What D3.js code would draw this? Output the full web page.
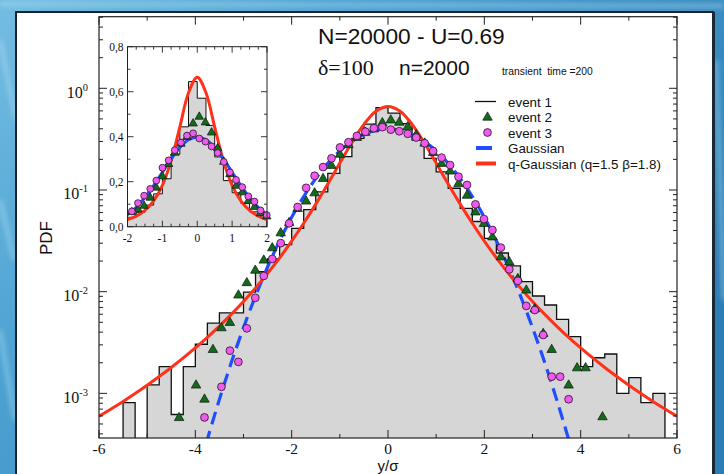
<!DOCTYPE html>
<html>
<head>
<meta charset="utf-8">
<script src="https://cdn.jsdelivr.net/npm/d3@7"></script>
<style>
  html, body { margin: 0; padding: 0; background: #3a8ec3; }
  svg { display: block; }
  .serif { font-family: "Liberation Serif", "DejaVu Serif", serif; }
  .sans  { font-family: "Liberation Sans", Arial, Helvetica, sans-serif; }
</style>
</head>
<body>
<svg id="chart" width="724" height="474"></svg>
<script>
// ══════════════════════════════════════════════════════════
// DATA
// ══════════════════════════════════════════════════════════
const xTicksMain = [-6, -4, -2, 0, 2, 4, 6];
const yDecades   = [1e-3, 1e-2, 1e-1, 1];
const yDecadeExp = ['-3', '-2', '-1', '0'];
const insetXTicks  = [-2, -1, 0, 1, 2];
const insetYTicks  = [0, 0.2, 0.4, 0.6, 0.8];
const insetYLabels = ['0,0', '0,2', '0,4', '0,6', '0,8'];

// event 1 : histogram, bins of 0.25 starting at -5.5
const binStart = -5.5, binWidth = 0.25;
const histVals = [
  8.1e-4, 0, 1.21e-3, 1.83e-3, 6.2e-4, 1.83e-3, 3.04e-3, 4.9e-3, 6.2e-3, 6.2e-3,
  9.9e-3, 0.0157, 0.021, 0.029, 0.042, 0.064, 0.096, 0.146, 0.213, 0.322,
  0.444, 0.645, 0.571, 0.45, 0.31, 0.205, 0.151, 0.104, 0.066, 0.049,
  0.0335, 0.024, 0.0179, 0.01255, 9.07e-3, 7.4e-3, 5.35e-3, 3.61e-3, 1.83e-3, 2.24e-3,
  2.44e-3, 1.0e-3, 1.43e-3, 8.1e-4, 1.0e-3
];

// event 2 : triangles
const ev2X = [-4.337, -3.985, -3.81, -3.634, -3.458, -3.282, -3.106, -2.931, -2.755, -2.579,
  -2.403, -2.227, -2.052, -1.876, -1.7, -1.524, -1.348, -1.173, -0.997, -0.821,
  -0.645, -0.469, -0.294, -0.118, 0.058, 0.234, 0.41, 0.585, 0.761, 0.937,
  1.113, 1.289, 1.464, 1.64, 1.816, 1.992, 2.168, 2.343, 2.519, 2.695,
  2.871, 3.047, 3.222, 3.398, 3.75, 3.926, 4.102, 4.453];
const ev2Y = [5.8e-4, 1.21e-3, 8.8e-4, 2.71e-3, 4.43e-3, 5.0e-3, 9.3e-3, 0.0123, 0.0163, 0.0205,
  0.0271, 0.038, 0.048, 0.066, 0.078, 0.094, 0.13, 0.175, 0.225, 0.28,
  0.33, 0.37, 0.40, 0.46, 0.49, 0.465, 0.42, 0.35, 0.29, 0.235,
  0.183, 0.154, 0.116, 0.089, 0.061, 0.047, 0.0347, 0.0221, 0.0197, 0.0135,
  0.0104, 6.8e-3, 3.9e-3, 2.71e-3, 1.21e-3, 1.79e-3, 1.79e-3, 5.9e-4];

// event 3 : circles
const ev3X = [-3.81, -3.458, -3.282, -3.106, -2.931, -2.755, -2.579, -2.403, -2.227, -2.052,
  -1.876, -1.7, -1.524, -1.348, -1.173, -0.997, -0.821, -0.645, -0.469, -0.294,
  -0.118, 0.058, 0.234, 0.41, 0.585, 0.761, 0.937, 1.113, 1.289, 1.464,
  1.64, 1.816, 1.992, 2.168, 2.343, 2.519, 2.695, 2.871, 3.047, 3.222,
  3.398, 3.574, 3.75];
const ev3Y = [5.8e-4, 1.16e-3, 2.63e-3, 2.04e-3, 4.36e-3, 8.7e-3, 0.0143, 0.021, 0.030, 0.047,
  0.068, 0.105, 0.138, 0.168, 0.205, 0.262, 0.295, 0.34, 0.374, 0.405,
  0.415, 0.392, 0.378, 0.357, 0.328, 0.288, 0.2415, 0.208, 0.176, 0.135,
  0.112, 0.0723, 0.0518, 0.0404, 0.0271, 0.0166, 0.0128, 7.24e-3, 6.6e-3, 3.75e-3,
  1.46e-3, 1.46e-3, 8.75e-4];

// Gaussian (dashed blue)
const gaussX = [-4, -3.75, -3.5, -3.25, -3, -2.75, -2.5, -2.25, -2, -1.75, -1.5, -1.25, -1, -0.75, -0.5, -0.25,
  0, 0.25, 0.5, 0.75, 1, 1.25, 1.5, 1.75, 2, 2.25, 2.5, 2.75, 3, 3.25, 3.5, 3.75, 4];
const gaussY = [0.000134, 0.000353, 0.000873, 0.00203, 0.00443, 0.00909, 0.0175, 0.0317, 0.054, 0.0863,
  0.1295, 0.1826, 0.242, 0.3011, 0.3521, 0.3867, 0.3989, 0.3867, 0.3521, 0.3011, 0.242, 0.1826,
  0.1295, 0.0863, 0.054, 0.0317, 0.0175, 0.00909, 0.00443, 0.00203, 0.000873, 0.000353, 0.000134];

// q-Gaussian (red)
const qX = [-6, -5.75, -5.5, -5.25, -5, -4.75, -4.5, -4.25, -4, -3.75, -3.5, -3.25, -3, -2.75, -2.5, -2.25,
  -2, -1.75, -1.5, -1.25, -1, -0.75, -0.5, -0.25, 0, 0.25, 0.5, 0.75, 1, 1.25, 1.5, 1.75,
  2, 2.25, 2.5, 2.75, 3, 3.25, 3.5, 3.75, 4, 4.25, 4.5, 4.75, 5, 5.25, 5.5, 5.75, 6];
const qY = [0.000595, 0.000702, 0.000833, 0.000997, 0.001202, 0.001463, 0.001797, 0.00223, 0.0028, 0.00356,
  0.004592, 0.006015, 0.008018, 0.010896, 0.01513, 0.02151, 0.03138, 0.04706, 0.07256, 0.1147,
  0.1839, 0.2927, 0.4425, 0.5952, 0.664, 0.5952, 0.4425, 0.2927, 0.1839, 0.1147,
  0.07256, 0.04706, 0.03138, 0.02151, 0.01513, 0.010896, 0.008018, 0.006015, 0.004592, 0.00356,
  0.0028, 0.00223, 0.001797, 0.001463, 0.001202, 0.000997, 0.000833, 0.000702, 0.000595];

const legendItems = ['event 1', 'event 2', 'event 3', 'Gaussian', 'q-Gaussian (q=1.5 \u03B2=1.8)'];

// ══════════════════════════════════════════════════════════
// STYLE
// ══════════════════════════════════════════════════════════
const COL = {
  hist: '#d6d6d6', tri: '#13691c', circ: '#ef5ced', gauss: '#1f4dff', qg: '#ff3219'
};

const W = 724, H = 474;
const svg = d3.select('#chart');
const defs = svg.append('defs');

// background
const bg = defs.append('linearGradient').attr('id', 'bg')
  .attr('x1', 0).attr('y1', 0).attr('x2', 1).attr('y2', 0.6);
bg.append('stop').attr('offset', 0).attr('stop-color', '#74bde2');
bg.append('stop').attr('offset', 0.35).attr('stop-color', '#4da2d2');
bg.append('stop').attr('offset', 1).attr('stop-color', '#2d7db5');
defs.append('filter').attr('id', 'blur').append('feGaussianBlur').attr('stdDeviation', 2.5);

svg.append('rect').attr('width', W).attr('height', H).attr('fill', 'url(#bg)');
const streaks = [[0, 4, 724, 6], [0, 40, 16, 120], [0, 200, 14, 260], [0, 330, 15, 420], [716, 60, 724, 300]];
svg.append('g').attr('filter', 'url(#blur)').selectAll('line').data(streaks).join('line')
  .attr('x1', d => d[0]).attr('y1', d => d[1]).attr('x2', d => d[2]).attr('y2', d => d[3])
  .attr('stroke', '#bfe6f7').attr('stroke-opacity', 0.45).attr('stroke-width', 4);

// white panel
svg.append('rect').attr('x', 16).attr('y', 12).attr('width', 697).attr('height', 475)
  .attr('fill', '#fff').attr('stroke', '#17232f').attr('stroke-width', 2);
svg.append('rect').attr('x', 712).attr('y', 12).attr('width', 3).attr('height', 475).attr('fill', '#1b2835');

// ══════════════════════════════════════════════════════════
// MAIN PLOT
// ══════════════════════════════════════════════════════════
const M = { l: 99, r: 677, t: 16.7, b: 438 };
const x = d3.scaleLinear().domain([-6, 6]).range([M.l, M.r]);
const y = d3.scaleLog().domain([3.64e-4, 5.06]).range([M.b, M.t]);
const yc = v => (v > 0 ? Math.min(y(v), M.b + 2) : M.b + 2);

defs.append('clipPath').attr('id', 'clipMain').append('rect')
  .attr('x', M.l).attr('y', M.t).attr('width', M.r - M.l).attr('height', M.b - M.t);

const main = svg.append('g');
const plot = main.append('g').attr('clip-path', 'url(#clipMain)');

// histogram as step points
const hist = histVals.map((v, i) => ({ lo: binStart + i * binWidth, hi: binStart + (i + 1) * binWidth, v }));
function stepPts(bins) {
  const pts = [[bins[0].lo, 0]];
  bins.forEach(b => pts.push([b.lo, b.v]));
  const last = bins[bins.length - 1];
  pts.push([last.hi, last.v], [last.hi, 0]);
  return pts;
}
const histPts = stepPts(hist);

plot.append('path').datum(histPts)
  .attr('fill', COL.hist)
  .attr('d', d3.area().curve(d3.curveStepAfter).x(d => x(d[0])).y0(M.b + 2).y1(d => yc(d[1])));
plot.append('path').datum(histPts)
  .attr('fill', 'none').attr('stroke', '#111').attr('stroke-width', 1.3)
  .attr('d', d3.line().curve(d3.curveStepAfter).x(d => x(d[0])).y(d => yc(d[1])));

// Gaussian dashed
plot.append('path').datum(d3.zip(gaussX, gaussY))
  .attr('fill', 'none').attr('stroke', COL.gauss).attr('stroke-width', 3.2)
  .attr('stroke-dasharray', '13,7')
  .attr('d', d3.line().curve(d3.curveCatmullRom).x(d => x(d[0])).y(d => y(d[1])));

// markers
function triPath(s) {
  const h = s * 0.87;
  return `M0,${-h * 0.62}L${s / 2},${h * 0.38}L${-s / 2},${h * 0.38}Z`;
}
main.append('g').selectAll('path').data(d3.zip(ev2X, ev2Y)).join('path')
  .attr('transform', d => `translate(${x(d[0])},${y(d[1])})`)
  .attr('d', triPath(9.5))
  .attr('fill', COL.tri).attr('stroke', '#0a1a0a').attr('stroke-width', 0.7);
main.append('g').selectAll('circle').data(d3.zip(ev3X, ev3Y)).join('circle')
  .attr('cx', d => x(d[0])).attr('cy', d => y(d[1])).attr('r', 3.9)
  .attr('fill', COL.circ).attr('stroke', '#2a102a').attr('stroke-width', 0.8);

// q-Gaussian
plot.append('path').datum(d3.zip(qX, qY))
  .attr('fill', 'none').attr('stroke', COL.qg).attr('stroke-width', 3)
  .attr('d', d3.line().curve(d3.curveCatmullRom).x(d => x(d[0])).y(d => y(d[1])));

// frame
main.append('rect').attr('x', M.l).attr('y', M.t).attr('width', M.r - M.l).attr('height', M.b - M.t)
  .attr('fill', 'none').attr('stroke', '#222').attr('stroke-width', 1.2);

// ticks (inward)
const xMinor = d3.range(-5, 6, 2);
const yMinor = [];
[1e-4, 1e-3, 1e-2, 1e-1, 1].forEach(d => d3.range(2, 10).forEach(m => {
  const v = d * m; if (v > y.domain()[0] && v < y.domain()[1]) yMinor.push(v);
}));
const tk = main.append('g').attr('stroke', '#222').attr('stroke-width', 1);
function xTicks(vals, len) {
  vals.forEach(v => {
    tk.append('line').attr('x1', x(v)).attr('x2', x(v)).attr('y1', M.b).attr('y2', M.b - len);
    tk.append('line').attr('x1', x(v)).attr('x2', x(v)).attr('y1', M.t).attr('y2', M.t + len);
  });
}
function yTicks(vals, len) {
  vals.forEach(v => {
    tk.append('line').attr('y1', y(v)).attr('y2', y(v)).attr('x1', M.l).attr('x2', M.l + len);
    tk.append('line').attr('y1', y(v)).attr('y2', y(v)).attr('x1', M.r).attr('x2', M.r - len);
  });
}
xTicks(xTicksMain, 8); xTicks(xMinor, 4);
yTicks(yDecades, 8); yTicks(yMinor, 4);

// tick labels
main.append('g').selectAll('text').data(xTicksMain).join('text')
  .attr('class', 'serif').attr('x', d => x(d)).attr('y', 454)
  .attr('text-anchor', 'middle').attr('font-size', 15.5).attr('fill', '#111')
  .text(d => String(d));

const yl = main.append('g').selectAll('text').data(yDecades).join('text')
  .attr('class', 'serif').attr('x', 88).attr('y', d => y(d) + 9.5)
  .attr('text-anchor', 'end').attr('font-size', 16).attr('fill', '#111');
yl.append('tspan').text('10');
yl.append('tspan').attr('dy', -7).attr('font-size', 10.5).text((d, i) => yDecadeExp[i]);

// axis titles
main.append('text').attr('class', 'sans').attr('transform', 'translate(52,238) rotate(-90)')
  .attr('text-anchor', 'middle').attr('font-size', 17).attr('fill', '#111').text('PDF');
main.append('text').attr('class', 'sans').attr('x', 388).attr('y', 470.5)
  .attr('text-anchor', 'middle').attr('font-size', 15).attr('fill', '#111').text('y/\u03C3');

// annotations
main.append('text').attr('class', 'sans').attr('x', 318).attr('y', 43.5)
  .attr('font-size', 22.7).attr('fill', '#111').text('N=20000 - U=0.69');
main.append('text').attr('class', 'serif').attr('x', 318).attr('y', 75)
  .attr('font-size', 22).attr('fill', '#111').text('\u03B4=100');
main.append('text').attr('class', 'sans').attr('x', 399).attr('y', 75)
  .attr('font-size', 21).attr('fill', '#111').text('n=2000');
main.append('text').attr('class', 'sans').attr('x', 502).attr('y', 75)
  .attr('font-size', 10.3).attr('fill', '#111').text('transient  time =200')
  .style('white-space', 'pre');

// legend
const leg = main.append('g');
const legBase = 106.5, legStep = 15.5;
leg.selectAll('text').data(legendItems).join('text')
  .attr('class', 'sans').attr('x', 508).attr('y', (d, i) => legBase + i * legStep)
  .attr('font-size', 13.4).attr('fill', '#111').text(d => d);
const sy = i => legBase + i * legStep - 5;
leg.append('line').attr('x1', 475).attr('x2', 496).attr('y1', sy(0)).attr('y2', sy(0))
  .attr('stroke', '#111').attr('stroke-width', 1.3);
leg.append('path').attr('transform', `translate(487.5,${sy(1)})`).attr('d', triPath(9.5))
  .attr('fill', COL.tri).attr('stroke', '#0a1a0a').attr('stroke-width', 0.7);
leg.append('circle').attr('cx', 487.5).attr('cy', sy(2)).attr('r', 3.9)
  .attr('fill', COL.circ).attr('stroke', '#2a102a').attr('stroke-width', 0.8);
leg.append('line').attr('x1', 476).attr('x2', 492).attr('y1', sy(3)).attr('y2', sy(3))
  .attr('stroke', COL.gauss).attr('stroke-width', 4);
leg.append('line').attr('x1', 476).attr('x2', 496).attr('y1', sy(4)).attr('y2', sy(4))
  .attr('stroke', COL.qg).attr('stroke-width', 4);

// ══════════════════════════════════════════════════════════
// INSET (linear scale)
// ══════════════════════════════════════════════════════════
const I = { l: 127.5, r: 267, t: 46.7, b: 226.7 };
const xi = d3.scaleLinear().domain([-2, 2]).range([I.l, I.r]);
const yi = d3.scaleLinear().domain([0, 0.8]).range([I.b, I.t]);

defs.append('clipPath').attr('id', 'clipInset').append('rect')
  .attr('x', I.l).attr('y', I.t).attr('width', I.r - I.l).attr('height', I.b - I.t);

const inset = svg.append('g');
inset.append('rect').attr('x', I.l).attr('y', I.t).attr('width', I.r - I.l).attr('height', I.b - I.t)
  .attr('fill', '#fff');
const ip = inset.append('g').attr('clip-path', 'url(#clipInset)');

const insetHist = hist.filter(b => b.lo >= -2 - 1e-9 && b.hi <= 2 + 1e-9);
const insetPts = stepPts(insetHist);
ip.append('path').datum(insetPts).attr('fill', COL.hist)
  .attr('d', d3.area().curve(d3.curveStepAfter).x(d => xi(d[0])).y0(I.b).y1(d => yi(d[1])));
ip.append('path').datum(insetPts).attr('fill', 'none').attr('stroke', '#111').attr('stroke-width', 1)
  .attr('d', d3.line().curve(d3.curveStepAfter).x(d => xi(d[0])).y(d => yi(d[1])));

ip.append('path').datum(d3.zip(qX, qY).filter(d => Math.abs(d[0]) <= 2.5))
  .attr('fill', 'none').attr('stroke', COL.qg).attr('stroke-width', 3)
  .attr('d', d3.line().curve(d3.curveCatmullRom).x(d => xi(d[0])).y(d => yi(d[1])));
ip.append('path').datum(d3.zip(gaussX, gaussY).filter(d => Math.abs(d[0]) <= 2.5))
  .attr('fill', 'none').attr('stroke', COL.gauss).attr('stroke-width', 3)
  .attr('d', d3.line().curve(d3.curveCatmullRom).x(d => xi(d[0])).y(d => yi(d[1])));

inset.append('g').selectAll('path').data(d3.zip(ev2X, ev2Y).filter(d => Math.abs(d[0]) <= 2)).join('path')
  .attr('transform', d => `translate(${xi(d[0])},${yi(d[1])})`)
  .attr('d', triPath(8.5))
  .attr('fill', COL.tri).attr('stroke', '#0a1a0a').attr('stroke-width', 0.7);
inset.append('g').selectAll('circle').data(d3.zip(ev3X, ev3Y).filter(d => Math.abs(d[0]) <= 2)).join('circle')
  .attr('cx', d => xi(d[0])).attr('cy', d => yi(d[1])).attr('r', 3.4)
  .attr('fill', COL.circ).attr('stroke', '#2a102a').attr('stroke-width', 0.8);

inset.append('rect').attr('x', I.l).attr('y', I.t).attr('width', I.r - I.l).attr('height', I.b - I.t)
  .attr('fill', 'none').attr('stroke', '#222').attr('stroke-width', 1);

const itk = inset.append('g').attr('stroke', '#222').attr('stroke-width', 0.9);
d3.range(-2, 2.01, 0.25).forEach(v => {
  const len = Math.abs(v - Math.round(v)) < 1e-6 ? 6 : 3;
  itk.append('line').attr('x1', xi(v)).attr('x2', xi(v)).attr('y1', I.b).attr('y2', I.b - len);
  itk.append('line').attr('x1', xi(v)).attr('x2', xi(v)).attr('y1', I.t).attr('y2', I.t + len);
});
d3.range(0, 0.81, 0.1).forEach((v, i) => {
  const len = i % 2 === 0 ? 6 : 3;
  itk.append('line').attr('y1', yi(v)).attr('y2', yi(v)).attr('x1', I.l).attr('x2', I.l + len);
  itk.append('line').attr('y1', yi(v)).attr('y2', yi(v)).attr('x1', I.r).attr('x2', I.r - len);
});

inset.append('g').selectAll('text').data(insetXTicks).join('text')
  .attr('class', 'serif').attr('x', d => xi(d)).attr('y', 242)
  .attr('text-anchor', 'middle').attr('font-size', 11.5).attr('fill', '#111').text(d => String(d));
inset.append('g').selectAll('text').data(insetYTicks).join('text')
  .attr('class', 'serif').attr('x', 123.5).attr('y', d => yi(d) + 4)
  .attr('text-anchor', 'end').attr('font-size', 11.5).attr('fill', '#111')
  .text((d, i) => insetYLabels[i]);
</script>
</body>
</html>
